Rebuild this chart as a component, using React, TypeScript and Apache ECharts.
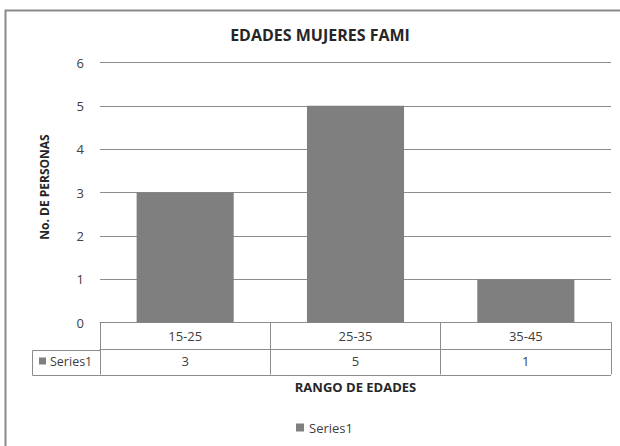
import React, { useEffect, useRef } from "react";
import * as echarts from "echarts";

const categories = ["15-25", "25-35", "35-45"];
const values = [3, 5, 1];
const seriesName = "Series1";
const titleText = "EDADES MUJERES FAMI";
const xTitle = "RANGO DE EDADES";
const yTitle = "No. DE PERSONAS";

const FONT = "'Open Sans', 'Liberation Sans', sans-serif";
const TXT = "#404040";
const LINE = "#8c8c8c";
const BAR = "#7f7f7f";

export default function App() {
  const ref = useRef<HTMLDivElement>(null);
  useEffect(() => {
    document.body.style.margin = "0";
    const chart = echarts.init(ref.current!, null, { renderer: "svg" });
    chart.setOption({
      animation: false,
      backgroundColor: "#ffffff",
      textStyle: { fontFamily: FONT },
      title: {
        text: titleText,
        left: 315,
        textAlign: "center",
        top: 22,
        textStyle: { fontFamily: FONT, fontSize: 16, fontWeight: "bold", color: "#262626" },
      },
      grid: { left: 100, right: 9, top: 62.5, bottom: 123.5, containLabel: false },
      legend: {
        data: [seriesName],
        top: 416,
        left: 291,
        icon: "rect",
        itemWidth: 8,
        itemHeight: 8,
        itemGap: 4,
        textStyle: { fontFamily: FONT, fontSize: 13, color: TXT },
      },
      xAxis: [
        {
          type: "category",
          data: categories,
          position: "bottom",
          axisLine: { show: true, lineStyle: { color: LINE, width: 1 } },
          axisTick: { show: true, length: 27, interval: 0, lineStyle: { color: LINE } },
          axisLabel: { fontSize: 13, color: TXT, margin: 7, fontFamily: FONT },
        },
        {
          type: "category",
          data: values.map(String),
          position: "bottom",
          offset: 27,
          axisLine: { show: true, lineStyle: { color: LINE, width: 1 } },
          axisTick: { show: true, length: 25, interval: 0, lineStyle: { color: LINE } },
          axisLabel: { fontSize: 13, color: TXT, margin: 5, fontFamily: FONT },
          name: xTitle,
          nameLocation: "middle",
          nameGap: 31,
          nameTextStyle: { fontSize: 13, fontWeight: "bold", color: "#262626", fontFamily: FONT },
        },
      ],
      yAxis: {
        type: "value",
        min: 0,
        max: 6,
        interval: 1,
        axisLine: { show: false },
        axisTick: { show: false },
        splitLine: { show: true, lineStyle: { color: LINE, width: 1 } },
        axisLabel: { fontSize: 13, color: TXT, margin: 16, fontFamily: FONT },
      },
      series: [
        {
          name: seriesName,
          type: "bar",
          xAxisIndex: 0,
          data: values,
          barWidth: "57%",
          itemStyle: { color: BAR },
        },
      ],
      graphic: [
        {
          type: "rect",
          shape: { x: 5.5, y: 10.5, width: 640, height: 460 },
          style: { fill: "none", stroke: "#8a8a8a", lineWidth: 2 },
          silent: true,
        },
        {
          type: "text",
          x: 44,
          y: 187,
          rotation: Math.PI / 2,
          style: {
            text: yTitle,
            fontSize: 12,
            fontWeight: "bold",
            fontFamily: FONT,
            fill: "#262626",
            align: "center",
            verticalAlign: "middle",
          },
          silent: true,
        },
        {
          type: "polyline",
          shape: { points: [[100, 350.5], [32.5, 350.5], [32.5, 375.5], [611, 375.5]] },
          style: { fill: "none", stroke: LINE, lineWidth: 1 },
          silent: true,
        },
        {
          type: "rect",
          shape: { x: 39, y: 357.5, width: 7, height: 7 },
          style: { fill: BAR },
          silent: true,
        },
        {
          type: "text",
          x: 50,
          y: 361.5,
          style: {
            text: seriesName,
            fontSize: 12.5,
            fontFamily: FONT,
            fill: TXT,
            verticalAlign: "middle",
          },
          silent: true,
        },
      ],
    });
    return () => chart.dispose();
  }, []);
  return <div ref={ref} style={{ width: 620, height: 446 }} />;
}
